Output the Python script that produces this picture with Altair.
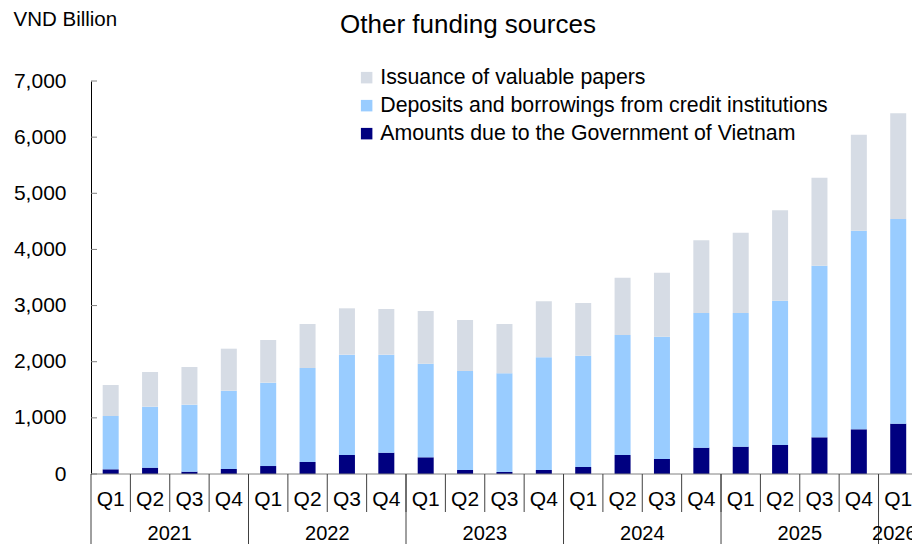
import altair as alt
import pandas as pd

quarters = ["Q1", "Q2", "Q3", "Q4"] * 5 + ["Q1"]
years = ["2021", "2022", "2023", "2024", "2025", "2026"]
year_center = [1.5, 5.5, 9.5, 13.5, 17.5, 19.9]
year_bounds = [-0.5, 3.5, 7.5, 11.5, 15.5, 19.5, 20.5]

series_names = [
    "Issuance of valuable papers",
    "Deposits and borrowings from credit institutions",
    "Amounts due to the Government of Vietnam",
]
colors = ["#D6DCE5", "#99CCFF", "#000080"]

government = [83, 113, 42, 89, 142, 214, 338, 380, 297, 71, 36, 71, 125, 338, 267, 469, 487, 517, 653, 796, 897]
deposits = [950, 1086, 1193, 1395, 1485, 1674, 1788, 1746, 1668, 1764, 1757, 2007, 1983, 2138, 2179, 2399, 2381, 2570, 3058, 3538, 3645]
issuance = [552, 618, 671, 748, 760, 784, 825, 813, 938, 908, 879, 998, 938, 1021, 1140, 1295, 1431, 1610, 1567, 1710, 1883]

y_ticks = [0, 1000, 2000, 3000, 4000, 5000, 6000, 7000]

chart_title = "Other funding sources"
unit_label = "VND Billion"

W, H = 821, 393
FONT = "Liberation Sans"

rows = []
for i in range(len(quarters)):
    rows.append({"idx": i, "series": series_names[2], "value": government[i], "ord": 0})
    rows.append({"idx": i, "series": series_names[1], "value": deposits[i], "ord": 1})
    rows.append({"idx": i, "series": series_names[0], "value": issuance[i], "ord": 2})
df = pd.DataFrame(rows)

xscale = alt.Scale(domain=[-0.5, 20.35], nice=False, zero=False, padding=0)
yscale = alt.Scale(domain=[0, 7000], nice=False, padding=0)

bars = alt.Chart(df).mark_bar(size=16).encode(
    x=alt.X("idx:Q", scale=xscale, axis=None),
    y=alt.Y(
        "value:Q",
        stack="zero",
        scale=yscale,
        axis=alt.Axis(
            values=y_ticks,
            format=",d",
            grid=False,
            ticks=False,
            domain=True,
            domainColor="#000000",
            labelFontSize=21,
            labelFont=FONT,
            labelColor="#000000",
            labelPadding=25,
            title=unit_label,
            titleAngle=0,
            titleAlign="left",
            titleBaseline="middle",
            titleX=-78,
            titleY=-62,
            titleFontSize=20.5,
            titleFontWeight="normal",
            titleFont=FONT,
            titleColor="#000000",
        ),
    ),
    color=alt.Color(
        "series:N",
        scale=alt.Scale(domain=series_names, range=colors),
        legend=alt.Legend(
            title=None,
            orient="none",
            legendX=265,
            legendY=-14,
            padding=0,
            symbolType="square",
            symbolSize=132,
            symbolStrokeWidth=0,
            labelFontSize=21.3,
            labelFont=FONT,
            labelColor="#000000",
            labelOffset=3,
            labelLimit=700,
            rowPadding=6,
        ),
    ),
    order=alt.Order("ord:Q"),
)

tick_df = pd.DataFrame({"v": y_ticks})
yticks = alt.Chart(tick_df).mark_rule(color="#808080").encode(
    y=alt.Y("v:Q", scale=yscale),
    x=alt.value(0),
    x2=alt.value(6),
)

zero_line = alt.Chart(tick_df.head(1)).mark_rule(color="#808080").encode(
    y=alt.value(H), x=alt.value(0), x2=alt.value(W)
)

q_sep_df = pd.DataFrame({"pos": [i + 0.5 for i in range(len(quarters) - 1)]})
q_sep = alt.Chart(q_sep_df).mark_rule(color="#404040").encode(
    x=alt.X("pos:Q", scale=xscale), y=alt.value(H), y2=alt.value(H + 38)
)

y_sep_df = pd.DataFrame({"pos": year_bounds})
y_sep = alt.Chart(y_sep_df).mark_rule(color="#404040").encode(
    x=alt.X("pos:Q", scale=xscale), y=alt.value(H), y2=alt.value(H + 80)
)

q_df = pd.DataFrame({"idx": list(range(len(quarters))), "q": quarters})
q_text = alt.Chart(q_df).mark_text(fontSize=21, font=FONT, color="#000000", baseline="middle").encode(
    x=alt.X("idx:Q", scale=xscale), y=alt.value(H + 26), text="q:N"
)

yr_df = pd.DataFrame({"c": year_center, "yr": years})
yr_text = alt.Chart(yr_df).mark_text(fontSize=20, font=FONT, color="#000000", baseline="middle").encode(
    x=alt.X("c:Q", scale=xscale), y=alt.value(H + 60), text="yr:N"
)

title_df = pd.DataFrame({"t": [chart_title]})
title_text = alt.Chart(title_df).mark_text(
    fontSize=26, font=FONT, color="#000000", align="center", baseline="alphabetic"
).encode(x=alt.value(377), y=alt.value(-48), text="t:N")

chart = (
    alt.layer(bars, yticks, zero_line, q_sep, y_sep, q_text, yr_text, title_text)
    .properties(
        width=W,
        height=H,
        autosize=alt.AutoSizeParams(type="none"),
        padding={"left": 83, "top": 73, "right": 0, "bottom": 70},
    )
    .configure_view(stroke=None)
)

chart.save("out.html", embed_options={"renderer": "svg", "actions": False})
